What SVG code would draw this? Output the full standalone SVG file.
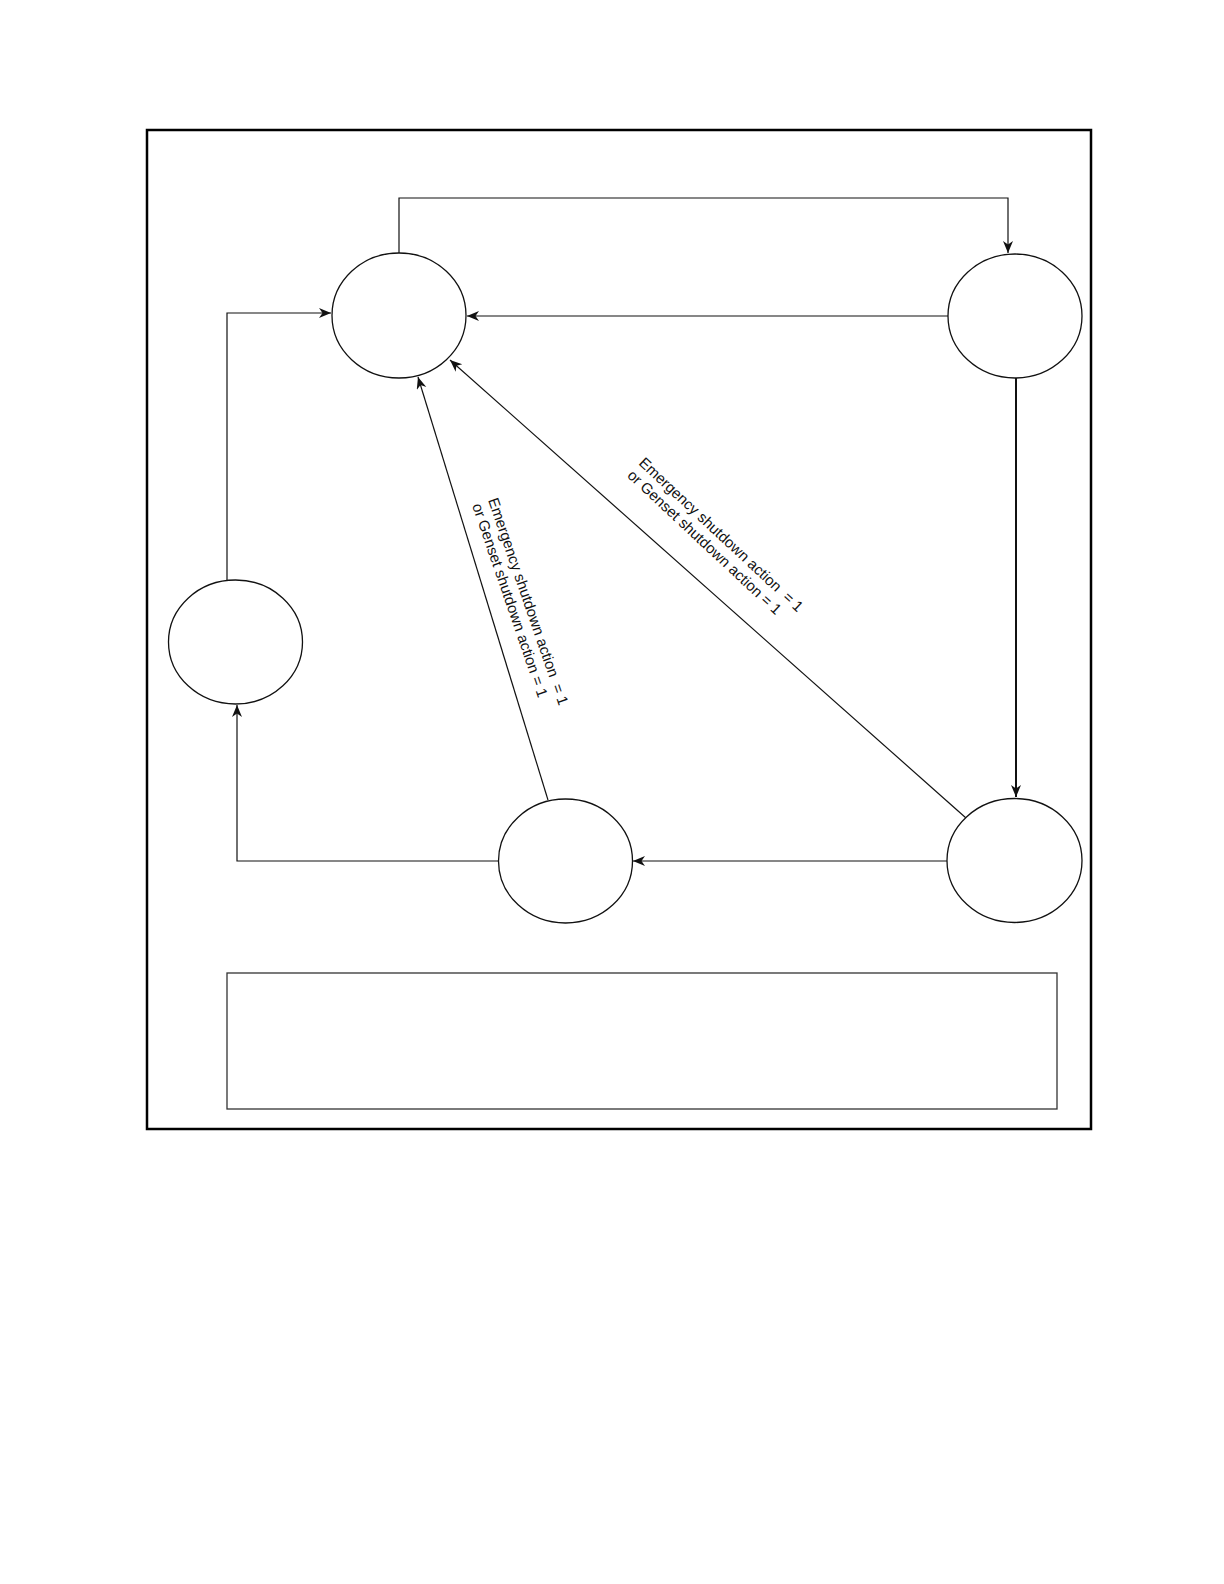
<svg xmlns="http://www.w3.org/2000/svg" width="1224" height="1584" viewBox="0 0 1224 1584">
<style>
.node{fill:#fff;stroke:#111;stroke-width:1.3}
.conn{fill:none;stroke:#111;stroke-width:1.2}
.thick{stroke-width:2}
.lbl{font-family:"Liberation Sans",Arial,sans-serif;font-size:15px;fill:#111}
</style>
<defs>
<marker id="arr" markerUnits="userSpaceOnUse" markerWidth="13" markerHeight="11" refX="12" refY="5" orient="auto">
<path d="M0,0 L12,5 L0,10 L3.5,5 Z" fill="#111"/>
</marker>
</defs>
<rect width="1224" height="1584" fill="#fff"/>
<rect id="frame" x="147" y="130" width="944" height="999" fill="none" stroke="#000" stroke-width="2.5"/>
<g id="connectors">
<path class="conn" d="M227,580 V313 H331" marker-end="url(#arr)"/>
<path class="conn" d="M399,253 V198 H1008 V253" marker-end="url(#arr)"/>
<path class="conn" d="M948,316 H467" marker-end="url(#arr)"/>
<path class="conn thick" d="M1016,378 V797" marker-end="url(#arr)"/>
<path class="conn" d="M947,861 H633" marker-end="url(#arr)"/>
<path class="conn" d="M499,861 H237 V705" marker-end="url(#arr)"/>
<path class="conn" d="M548,800 L418,377" marker-end="url(#arr)"/>
<path class="conn" d="M966,818 L450,360" marker-end="url(#arr)"/>
</g>
<g id="label-diag" transform="translate(638,464) rotate(43)">
<text class="lbl" x="0" y="0" xml:space="preserve">Emergency shutdown action  = 1</text>
<text class="lbl" x="0" y="17">or Genset shutdown action = 1</text>
</g>
<g id="label-steep" transform="translate(488,500) rotate(71)">
<text class="lbl" x="0" y="0" xml:space="preserve">Emergency shutdown action  = 1</text>
<text class="lbl" x="0" y="17">or Genset shutdown action = 1</text>
</g>
<g id="nodeA"><ellipse class="node" cx="399" cy="315.5" rx="67" ry="62.5"/></g>
<g id="nodeB"><ellipse class="node" cx="1015" cy="316" rx="67" ry="62"/></g>
<g id="nodeC"><ellipse class="node" cx="1014.5" cy="860.5" rx="67.5" ry="62"/></g>
<g id="nodeD"><ellipse class="node" cx="235.5" cy="642" rx="67" ry="62"/></g>
<g id="nodeE"><ellipse class="node" cx="565.5" cy="861" rx="67" ry="62"/></g>
<g id="legend"><rect x="227" y="973" width="830" height="136" fill="none" stroke="#333" stroke-width="1.3"/></g>
</svg>
